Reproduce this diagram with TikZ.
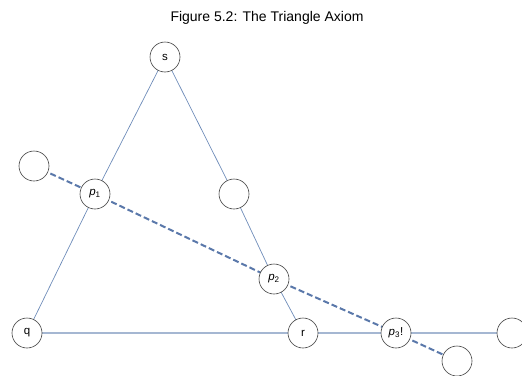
\documentclass[tikz,border=0pt]{standalone}
\usepackage{fontspec}
\setmainfont{Liberation Sans}
\definecolor{segcol}{RGB}{110,140,185}
\definecolor{basecol}{RGB}{165,183,210}
\definecolor{dashcol}{RGB}{90,120,170}
\begin{document}
\begin{tikzpicture}[x=1pt,y=-1pt,
  vtx/.style={circle,draw=black!75,fill=white,line width=0.6pt,minimum size=30pt,inner sep=0pt,font=\fontsize{11.5}{12}\selectfont},
  segline/.style={draw=segcol,line width=0.7pt},
  baseline/.style={draw=basecol,line width=1.5pt},
  dashline/.style={draw=dashcol,line width=2pt,dash pattern=on 6pt off 3pt}]
\useasboundingbox (0,0) rectangle (522,375);
\node[font=\fontsize{14}{16}\selectfont] (title) at (267,18) {Figure 5.2: The Triangle Axiom};
\coordinate (sC) at (165,57);
\coordinate (lC) at (34,166);
\coordinate (p1C) at (95,194);
\coordinate (eC) at (234,194);
\coordinate (p2C) at (274,279);
\coordinate (qC) at (27,333);
\coordinate (rC) at (303,333);
\coordinate (p3C) at (396,333);
\coordinate (fC) at (512,333);
\coordinate (bC) at (457,361);
% connectors first
\draw[segline] (sC) -- (p1C) -- (qC);
\draw[segline] (sC) -- (eC) -- (p2C) -- (rC);
\draw[baseline] (qC) -- (rC) -- (p3C) -- (fC);
\draw[dashline] (lC) -- (p1C);
\draw[dashline] (p1C) -- (p2C);
\draw[dashline] (p2C) -- (p3C);
\draw[dashline] (p3C) -- (bC);
% nodes
\node[vtx] (s) at (sC) {s};
\node[vtx] (l) at (lC) {};
\node[vtx] (p1) at (p1C) {\textit{p}\textsubscript{1}};
\node[vtx] (e) at (eC) {};
\node[vtx] (p2) at (p2C) {\textit{p}\textsubscript{2}};
\node[vtx] (q) at (qC) {q};
\node[vtx] (r) at (rC) {r};
\node[vtx] (p3) at (p3C) {\textit{p}\textsubscript{3}!};
\node[vtx] (f) at (fC) {};
\node[vtx] (b) at (bC) {};
\end{tikzpicture}
\end{document}
